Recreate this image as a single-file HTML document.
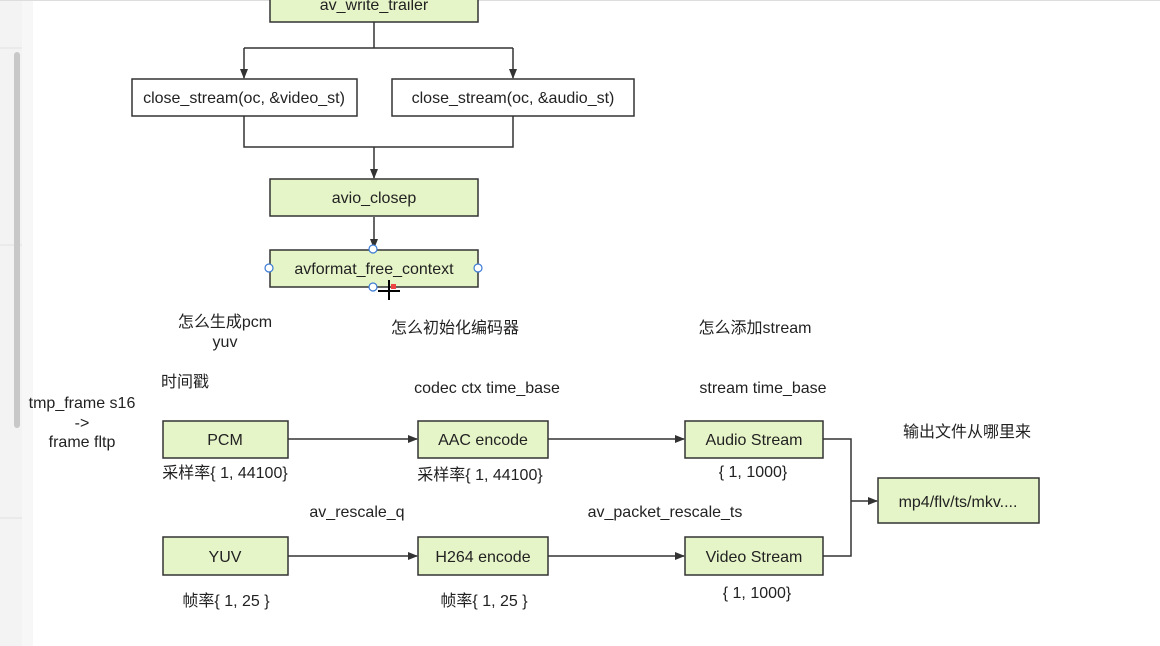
<!DOCTYPE html>
<html><head><meta charset="utf-8"><style>
html,body{margin:0;padding:0;width:1160px;height:646px;overflow:hidden;background:#fff}
svg{display:block}
text{font-family:"Liberation Sans","Noto Sans CJK SC",sans-serif;font-size:16px;fill:#222}
</style></head><body>
<svg width="1160" height="646" viewBox="0 0 1160 646">
<defs><marker id="a" markerWidth="10" markerHeight="10" refX="9" refY="5" orient="auto" markerUnits="userSpaceOnUse"><path d="M0,1 L10,5 L0,9 Z" fill="#333"/></marker></defs>
<rect x="0" y="0" width="22" height="646" fill="#f3f3f3"/>
<rect x="22" y="0" width="11" height="646" fill="#f7f7f7"/>
<line x1="0" y1="48" x2="22" y2="48" stroke="#e2e2e2"/>
<line x1="0" y1="245" x2="22" y2="245" stroke="#e2e2e2"/>
<line x1="0" y1="518" x2="22" y2="518" stroke="#e2e2e2"/>
<rect x="14" y="52" width="6" height="376" rx="3" fill="#c8c8c8"/>
<rect x="0" y="0" width="1160" height="1" fill="#ddd"/>
<g stroke="#333" stroke-width="1.5" fill="none">
<path d="M374,22 V48 M244,48 H513 M244,48 V78" marker-end="url(#a)"/>
<path d="M513,48 V78" marker-end="url(#a)"/>
<path d="M244,116 V147 H513 V116 M374,147 V178" marker-end="url(#a)"/>
<path d="M374,217 V248" marker-end="url(#a)"/>
<path d="M288,439 H417" marker-end="url(#a)"/>
<path d="M548,439 H684" marker-end="url(#a)"/>
<path d="M288,556 H417" marker-end="url(#a)"/>
<path d="M548,556 H684" marker-end="url(#a)"/>
<path d="M823,439 H851 V556 H823 M851,501 H877" marker-end="url(#a)"/>
</g>
<g stroke="#333" stroke-width="1.5" fill="#e6f5c8">
<rect x="270" y="-10" width="208" height="32"/>
<rect x="270" y="179" width="208" height="37"/>
<rect x="270" y="250" width="208" height="37"/>
<rect x="163" y="421" width="125" height="37"/>
<rect x="418" y="421" width="130" height="37"/>
<rect x="685" y="421" width="138" height="37"/>
<rect x="163" y="537" width="125" height="38"/>
<rect x="418" y="537" width="130" height="38"/>
<rect x="685" y="537" width="138" height="38"/>
<rect x="878" y="478" width="161" height="45"/>
</g>
<g stroke="#333" stroke-width="1.5" fill="#fff">
<rect x="132" y="79" width="225" height="37"/>
<rect x="392" y="79" width="242" height="37"/>
</g>
<g stroke="#3a7bd5" stroke-width="1.2" fill="#fff">
<circle cx="373" cy="249" r="4"/><circle cx="269" cy="268" r="4"/><circle cx="478" cy="268" r="4"/><circle cx="373" cy="287" r="4"/>
</g>
<rect x="391" y="284" width="5" height="5" fill="#e44"/>
<path d="M389,280 V300 M378,291 H400" stroke="#000" stroke-width="2"/>
<g text-anchor="middle">
<text x="374" y="10">av_write_trailer</text>
<text x="244" y="103">close_stream(oc, &amp;video_st)</text>
<text x="513" y="103">close_stream(oc, &amp;audio_st)</text>
<text x="374" y="203">avio_closep</text>
<text x="374" y="274">avformat_free_context</text>
<text x="225" y="327">怎么生成pcm</text>
<text x="225" y="347">yuv</text>
<text x="455" y="333">怎么初始化编码器</text>
<text x="755" y="333">怎么添加stream</text>
<text x="185" y="387">时间戳</text>
<text x="487" y="393">codec ctx time_base</text>
<text x="763" y="393">stream time_base</text>
<text x="82" y="408">tmp_frame s16</text>
<text x="82" y="428">-&gt;</text>
<text x="82" y="447">frame fltp</text>
<text x="225" y="445">PCM</text>
<text x="483" y="445">AAC encode</text>
<text x="754" y="445">Audio Stream</text>
<text x="225" y="478">采样率{ 1, 44100}</text>
<text x="480" y="480">采样率{ 1, 44100}</text>
<text x="753" y="477">{ 1, 1000}</text>
<text x="967" y="437">输出文件从哪里来</text>
<text x="958" y="507">mp4/flv/ts/mkv....</text>
<text x="357" y="517">av_rescale_q</text>
<text x="665" y="517">av_packet_rescale_ts</text>
<text x="225" y="562">YUV</text>
<text x="483" y="562">H264 encode</text>
<text x="754" y="562">Video Stream</text>
<text x="226" y="606">帧率{ 1, 25 }</text>
<text x="484" y="606">帧率{ 1, 25 }</text>
<text x="757" y="598">{ 1, 1000}</text>
</g>
</svg>
</body></html>
